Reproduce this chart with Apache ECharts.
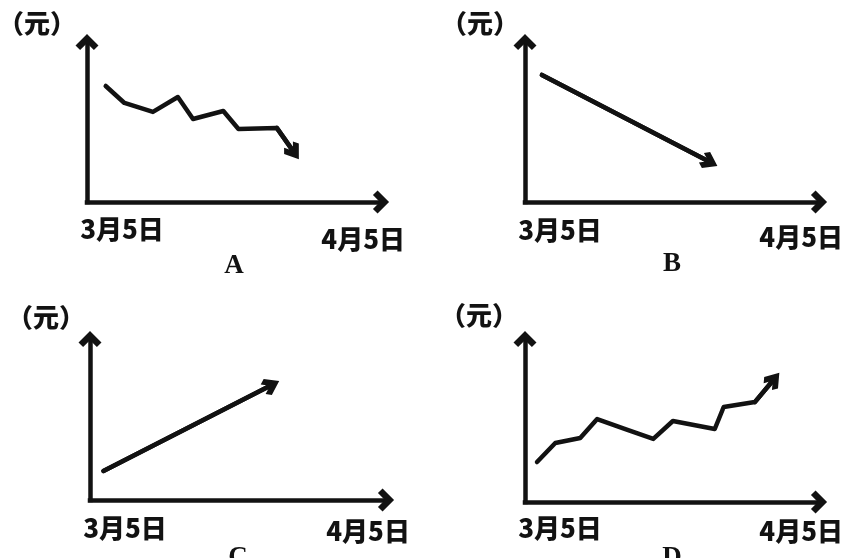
<!DOCTYPE html>
<html><head><meta charset="utf-8">
<script src="https://cdn.jsdelivr.net/npm/echarts@6/dist/echarts.min.js"></script>
<style>html,body{margin:0;padding:0;background:#fff}#c{width:855px;height:558px}</style>
</head><body><div id="c"></div>
<script>
// ---- data ----
const tickLabels = ['3月5日', '4月5日'];
const tickDays = [0, 31];
const yName = '（元）';
const panelNames = ['A', 'B', 'C', 'D'];
// [day since 3月5日, price (arbitrary units)]
const seriesA = [[2.1, 7.25], [4.2, 6.19], [7.4, 5.63], [10.2, 6.56], [11.9, 5.19], [15.3, 5.69], [17.0, 4.56], [21.3, 4.63], [23.2, 3.13]];
const seriesB = [[1.9, 7.94], [20.7, 2.51]];
const seriesC = [[1.5, 1.8], [20.2, 7.13]];
const seriesD = [[1.35, 2.45], [3.4, 3.62], [6.2, 3.93], [8.1, 5.09], [11.5, 4.42], [14.4, 3.87], [16.6, 4.97], [21.3, 4.48], [22.3, 5.83], [25.8, 6.13], [27.9, 7.5]];
const allSeries = [seriesA, seriesB, seriesC, seriesD];

// ---- layout / style ----
const grids = [
  {left: 87, top: 42, width: 294, height: 160},
  {left: 525, top: 42, width: 294, height: 160},
  {left: 90, top: 339, width: 296, height: 161},
  {left: 525, top: 339, width: 294, height: 163}
];
const labelMargin = [14, 15, 15, 13];
const endPad = [10, 7, 3, 3];
const namePadR = [11, 6, 5, 7];
const nameGapY = [6, 6, 9, 11];
const nameGapX = [46, 46, 34, 34];
const INK = '#121212';
const CJK = '"Noto Sans CJK SC", "Noto Sans CJK JP", sans-serif';
const chevron = 'path://M10,0 L20,10 L16,14 L10,8 L4,14 L0,10 Z';

const chart = echarts.init(document.getElementById('c'));
const option = {
  animation: false,
  backgroundColor: '#fff',
  grid: grids.map(g => Object.assign({outerBoundsMode: 'none', containLabel: false}, g)),
  xAxis: grids.map((g, i) => ({
    gridIndex: i, type: 'value', min: 0, max: 33,
    name: panelNames[i], nameLocation: 'middle', nameGap: nameGapX[i],
    nameTextStyle: {fontFamily: '"Liberation Serif", serif', fontWeight: 'bold', fontSize: 27, color: INK, verticalAlign: 'top'},
    axisLine: {show: true, onZero: false, symbol: ['none', chevron], symbolSize: [23, 21], lineStyle: {color: INK, width: 4.5, cap: 'square'}},
    axisTick: {show: false}, splitLine: {show: false},
    axisLabel: {
      show: true, margin: labelMargin[i], customValues: tickDays, hideOverlap: false,
      showMinLabel: true, showMaxLabel: true,
      formatter: v => (v === tickDays[0] ? '{s|' + tickLabels[0] + '}' : '{e|' + tickLabels[1] + '}'),
      rich: {
        s: {fontFamily: CJK, fontWeight: 900, fontSize: 26, color: INK, padding: [0, 0, 0, 70]},
        e: {fontFamily: CJK, fontWeight: 900, fontSize: 26, color: INK, padding: [endPad[i], 0, 0, 0]}
      }
    }
  })),
  yAxis: grids.map((g, i) => ({
    gridIndex: i, type: 'value', min: 0, max: 10,
    name: yName, nameLocation: 'end', nameGap: nameGapY[i],
    nameTextStyle: {fontFamily: CJK, fontWeight: 900, fontSize: 26, color: INK, align: 'right', verticalAlign: 'bottom', padding: [0, namePadR[i], 0, 0]},
    axisLine: {show: true, onZero: false, symbol: ['none', chevron], symbolSize: [23, 19], lineStyle: {color: INK, width: 4.5, cap: 'square'}},
    axisTick: {show: false}, splitLine: {show: false}, axisLabel: {show: false}
  })),
  series: []
};
allSeries.forEach((s, i) => {
  option.series.push({
    type: 'line', xAxisIndex: i, yAxisIndex: i, data: s, showSymbol: false, symbol: 'none',
    lineStyle: {color: INK, width: 4.5, join: 'round', cap: 'round'}, silent: true
  });
  option.series.push({
    type: 'lines', coordinateSystem: 'cartesian2d', xAxisIndex: i, yAxisIndex: i,
    symbol: ['none', chevron], symbolSize: 18,
    lineStyle: {color: INK, width: 4.5, opacity: 1, cap: 'round'},
    data: [{coords: [s[s.length - 2], s[s.length - 1]]}], silent: true
  });
});
chart.setOption(option);
</script></body></html>
